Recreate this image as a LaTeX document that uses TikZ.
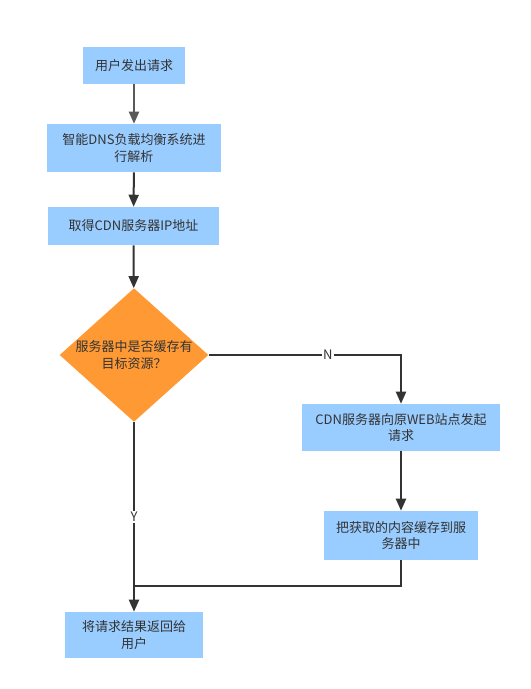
\documentclass[tikz,border=0pt]{standalone}
\usepackage{fontspec}
\setmainfont{Noto Sans CJK SC}
\usetikzlibrary{shapes.geometric,arrows.meta}
\definecolor{boxblue}{HTML}{99CCFF}
\definecolor{decor}{HTML}{FF9933}
\definecolor{txt}{HTML}{333333}
\definecolor{edge}{HTML}{333333}
\definecolor{edgegray}{HTML}{595959}
\begin{document}
\begin{tikzpicture}[x=0.75pt,y=-0.75pt,
  lbl/.style={font=\fontsize{9.75}{12.4}\selectfont, text=txt},
  proc/.style={lbl, rectangle, fill=boxblue, draw=none, align=center, inner sep=0pt},
  decision/.style={lbl, diamond, fill=decor, draw=none, align=center, inner sep=0pt,
    shape aspect=1.114},
  flow/.style={draw=edge, line width=1.5pt, -{Triangle[length=9pt,width=7.5pt]}},
  plain/.style={draw=edge, line width=1.5pt},
  elabel/.style={lbl, fill=white, inner sep=1pt},
]
\fill[white] (0,0) rectangle (531,689);
\useasboundingbox (0,0) rectangle (531,689);

% process steps
\node[proc, minimum width=76.5pt, minimum height=27.75pt] (req) at (134,65.5) {用户发出请求};
\node[proc, minimum width=130.5pt, minimum height=36pt] (dns) at (134,148) {智能DNS负载均衡系统进\\行解析};
\node[proc, minimum width=128.25pt, minimum height=28.5pt] (ip) at (133.5,226) {取得CDN服务器IP地址};
\node[decision, minimum width=110.25pt, minimum height=99pt] (hit) at (134,355) {服务器中是否缓存有\\目标资源？};
\node[proc, minimum width=148.5pt, minimum height=35.25pt] (origin) at (401,427.5) {CDN服务器向原WEB站点发起\\请求};
\node[proc, minimum width=115.5pt, minimum height=36.75pt] (cache) at (401,535.5) {把获取的内容缓存到服\\务器中};
\node[proc, minimum width=103.5pt, minimum height=34.5pt] (ret) at (134,635) {将请求结果返回给\\用户};

\coordinate (join) at (134,586);

% connectors
\draw[flow, draw=edgegray, -{Triangle[length=9pt,width=7.5pt,fill=edgegray]}] (req) -- (dns);
\draw[flow] (dns) -- (ip);
\draw[flow] (ip) -- (hit);
\draw[flow] (hit.east) -| node[elabel, pos=0.31] {N} (origin.north);
\draw[flow] (origin) -- (cache);
\draw[flow] (hit.south) -- node[elabel, pos=0.5] {Y} (ret.north);
\draw[plain] (cache.south) |- (join);
\end{tikzpicture}
\end{document}
